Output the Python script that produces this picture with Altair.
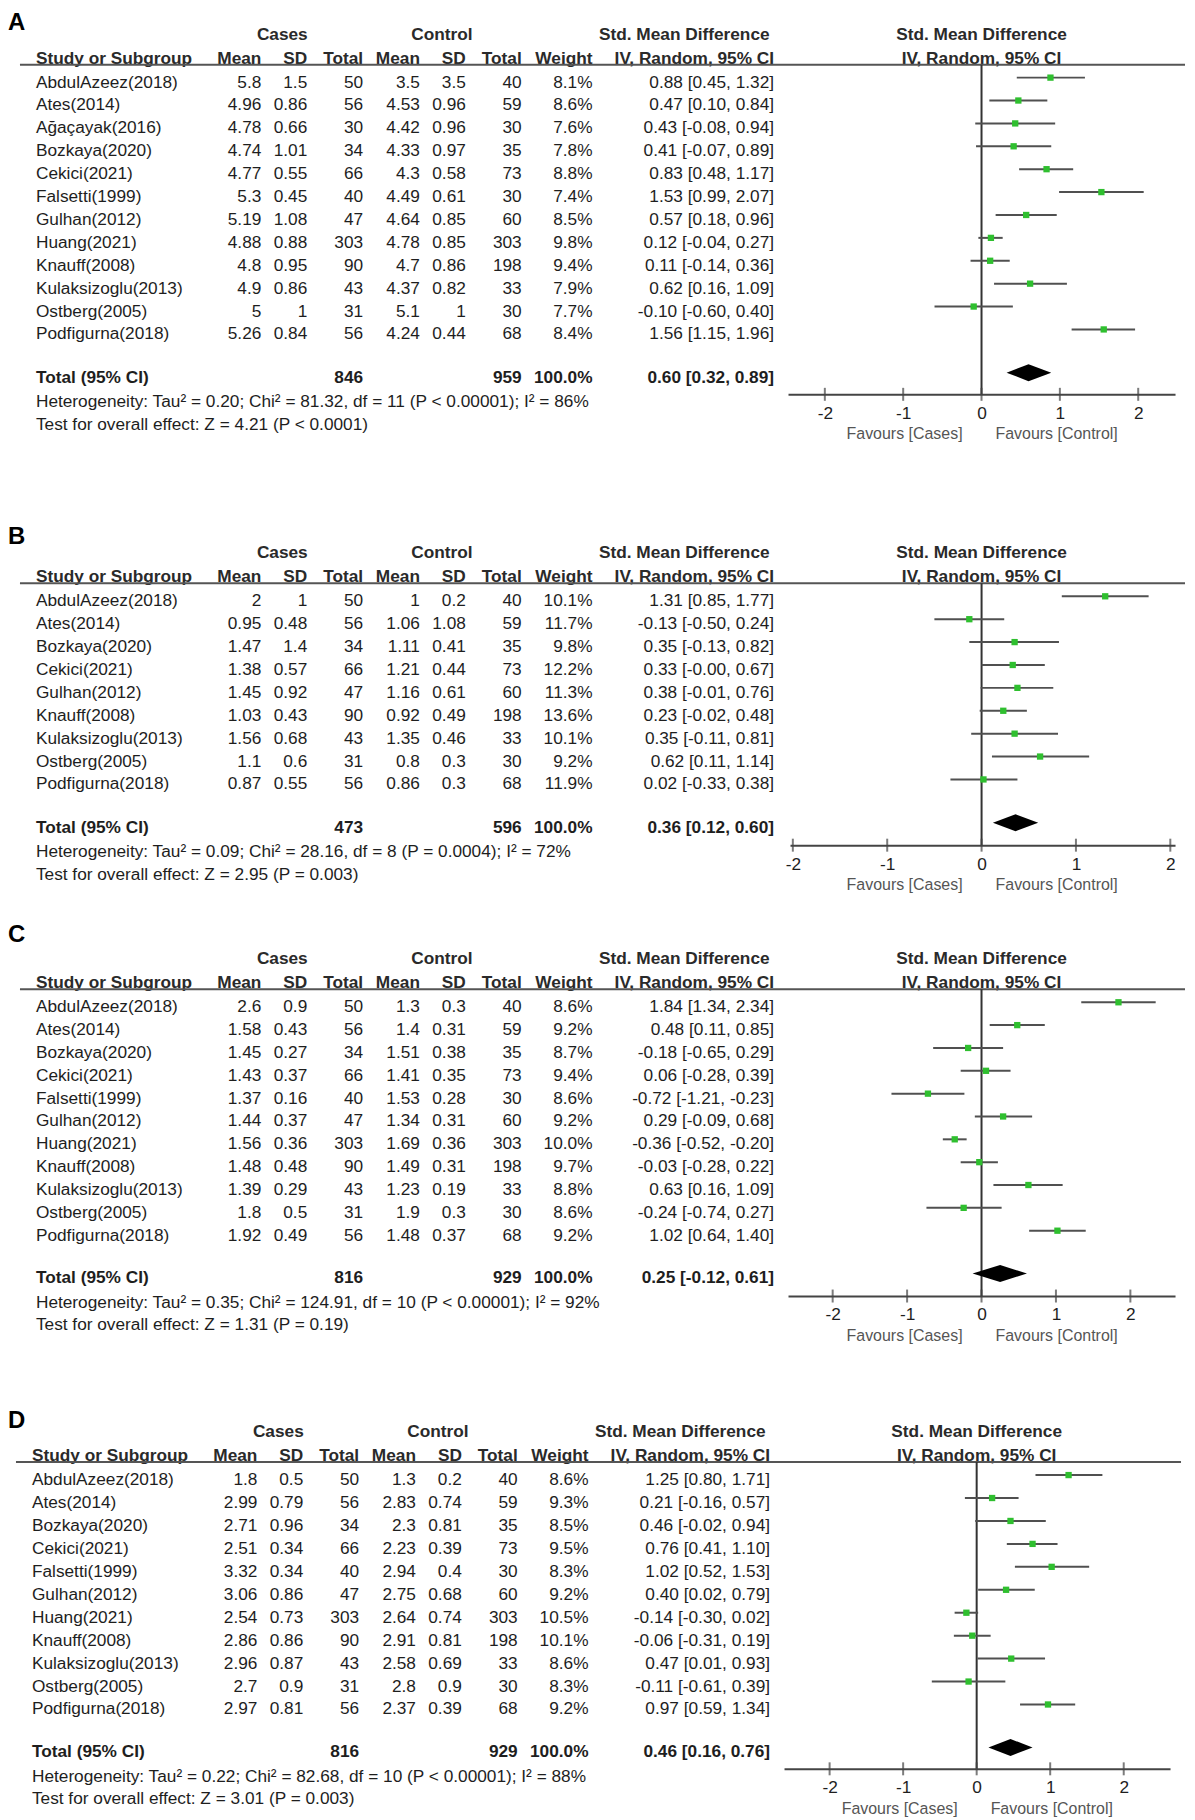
import altair as alt
import pandas as pd

# ---------------- data ----------------
A_study = ["AbdulAzeez(2018)", "Ates(2014)", "Ağaçayak(2016)", "Bozkaya(2020)", "Cekici(2021)", "Falsetti(1999)",
           "Gulhan(2012)", "Huang(2021)", "Knauff(2008)", "Kulaksizoglu(2013)", "Ostberg(2005)", "Podfigurna(2018)"]
A_m1 = [5.8, 4.96, 4.78, 4.74, 4.77, 5.3, 5.19, 4.88, 4.8, 4.9, 5, 5.26]
A_sd1 = [1.5, 0.86, 0.66, 1.01, 0.55, 0.45, 1.08, 0.88, 0.95, 0.86, 1, 0.84]
A_n1 = [50, 56, 30, 34, 66, 40, 47, 303, 90, 43, 31, 56]
A_m2 = [3.5, 4.53, 4.42, 4.33, 4.3, 4.49, 4.64, 4.78, 4.7, 4.37, 5.1, 4.24]
A_sd2 = [3.5, 0.96, 0.96, 0.97, 0.58, 0.61, 0.85, 0.85, 0.86, 0.82, 1, 0.44]
A_n2 = [40, 59, 30, 35, 73, 30, 60, 303, 198, 33, 30, 68]
A_w = [8.1, 8.6, 7.6, 7.8, 8.8, 7.4, 8.5, 9.8, 9.4, 7.9, 7.7, 8.4]
A_smd = [0.88, 0.47, 0.43, 0.41, 0.83, 1.53, 0.57, 0.12, 0.11, 0.62, -0.10, 1.56]
A_lo = [0.45, 0.10, -0.08, -0.07, 0.48, 0.99, 0.18, -0.04, -0.14, 0.16, -0.60, 1.15]
A_hi = [1.32, 0.84, 0.94, 0.89, 1.17, 2.07, 0.96, 0.27, 0.36, 1.09, 0.40, 1.96]
A_total = [846, 959, 0.60, 0.32, 0.89]
A_het = "Heterogeneity: Tau² = 0.20; Chi² = 81.32, df = 11 (P < 0.00001); I² = 86%"
A_test = "Test for overall effect: Z = 4.21 (P < 0.0001)"

B_study = ["AbdulAzeez(2018)", "Ates(2014)", "Bozkaya(2020)", "Cekici(2021)", "Gulhan(2012)", "Knauff(2008)",
           "Kulaksizoglu(2013)", "Ostberg(2005)", "Podfigurna(2018)"]
B_m1 = [2, 0.95, 1.47, 1.38, 1.45, 1.03, 1.56, 1.1, 0.87]
B_sd1 = [1, 0.48, 1.4, 0.57, 0.92, 0.43, 0.68, 0.6, 0.55]
B_n1 = [50, 56, 34, 66, 47, 90, 43, 31, 56]
B_m2 = [1, 1.06, 1.11, 1.21, 1.16, 0.92, 1.35, 0.8, 0.86]
B_sd2 = [0.2, 1.08, 0.41, 0.44, 0.61, 0.49, 0.46, 0.3, 0.3]
B_n2 = [40, 59, 35, 73, 60, 198, 33, 30, 68]
B_w = [10.1, 11.7, 9.8, 12.2, 11.3, 13.6, 10.1, 9.2, 11.9]
B_smd = [1.31, -0.13, 0.35, 0.33, 0.38, 0.23, 0.35, 0.62, 0.02]
B_lo = [0.85, -0.50, -0.13, -0.0, -0.01, -0.02, -0.11, 0.11, -0.33]
B_hi = [1.77, 0.24, 0.82, 0.67, 0.76, 0.48, 0.81, 1.14, 0.38]
B_total = [473, 596, 0.36, 0.12, 0.60]
B_het = "Heterogeneity: Tau² = 0.09; Chi² = 28.16, df = 8 (P = 0.0004); I² = 72%"
B_test = "Test for overall effect: Z = 2.95 (P = 0.003)"

C_study = ["AbdulAzeez(2018)", "Ates(2014)", "Bozkaya(2020)", "Cekici(2021)", "Falsetti(1999)", "Gulhan(2012)",
           "Huang(2021)", "Knauff(2008)", "Kulaksizoglu(2013)", "Ostberg(2005)", "Podfigurna(2018)"]
C_m1 = [2.6, 1.58, 1.45, 1.43, 1.37, 1.44, 1.56, 1.48, 1.39, 1.8, 1.92]
C_sd1 = [0.9, 0.43, 0.27, 0.37, 0.16, 0.37, 0.36, 0.48, 0.29, 0.5, 0.49]
C_n1 = [50, 56, 34, 66, 40, 47, 303, 90, 43, 31, 56]
C_m2 = [1.3, 1.4, 1.51, 1.41, 1.53, 1.34, 1.69, 1.49, 1.23, 1.9, 1.48]
C_sd2 = [0.3, 0.31, 0.38, 0.35, 0.28, 0.31, 0.36, 0.31, 0.19, 0.3, 0.37]
C_n2 = [40, 59, 35, 73, 30, 60, 303, 198, 33, 30, 68]
C_w = [8.6, 9.2, 8.7, 9.4, 8.6, 9.2, 10.0, 9.7, 8.8, 8.6, 9.2]
C_smd = [1.84, 0.48, -0.18, 0.06, -0.72, 0.29, -0.36, -0.03, 0.63, -0.24, 1.02]
C_lo = [1.34, 0.11, -0.65, -0.28, -1.21, -0.09, -0.52, -0.28, 0.16, -0.74, 0.64]
C_hi = [2.34, 0.85, 0.29, 0.39, -0.23, 0.68, -0.20, 0.22, 1.09, 0.27, 1.40]
C_total = [816, 929, 0.25, -0.12, 0.61]
C_het = "Heterogeneity: Tau² = 0.35; Chi² = 124.91, df = 10 (P < 0.00001); I² = 92%"
C_test = "Test for overall effect: Z = 1.31 (P = 0.19)"

D_study = ["AbdulAzeez(2018)", "Ates(2014)", "Bozkaya(2020)", "Cekici(2021)", "Falsetti(1999)", "Gulhan(2012)",
           "Huang(2021)", "Knauff(2008)", "Kulaksizoglu(2013)", "Ostberg(2005)", "Podfigurna(2018)"]
D_m1 = [1.8, 2.99, 2.71, 2.51, 3.32, 3.06, 2.54, 2.86, 2.96, 2.7, 2.97]
D_sd1 = [0.5, 0.79, 0.96, 0.34, 0.34, 0.86, 0.73, 0.86, 0.87, 0.9, 0.81]
D_n1 = [50, 56, 34, 66, 40, 47, 303, 90, 43, 31, 56]
D_m2 = [1.3, 2.83, 2.3, 2.23, 2.94, 2.75, 2.64, 2.91, 2.58, 2.8, 2.37]
D_sd2 = [0.2, 0.74, 0.81, 0.39, 0.4, 0.68, 0.74, 0.81, 0.69, 0.9, 0.39]
D_n2 = [40, 59, 35, 73, 30, 60, 303, 198, 33, 30, 68]
D_w = [8.6, 9.3, 8.5, 9.5, 8.3, 9.2, 10.5, 10.1, 8.6, 8.3, 9.2]
D_smd = [1.25, 0.21, 0.46, 0.76, 1.02, 0.40, -0.14, -0.06, 0.47, -0.11, 0.97]
D_lo = [0.80, -0.16, -0.02, 0.41, 0.52, 0.02, -0.30, -0.31, 0.01, -0.61, 0.59]
D_hi = [1.71, 0.57, 0.94, 1.10, 1.53, 0.79, 0.02, 0.19, 0.93, 0.39, 1.34]
D_total = [816, 929, 0.46, 0.16, 0.76]
D_het = "Heterogeneity: Tau² = 0.22; Chi² = 82.68, df = 10 (P < 0.00001); I² = 88%"
D_test = "Test for overall effect: Z = 3.01 (P = 0.003)"

TICKS = [-2, -1, 0, 1, 2]

# ---------------- layout / style ----------------
FONT = "Liberation Sans"
FS = 17.3
W = 1182
TXT = "#1e1e1e"
GREEN = "#2fbf2f"
LINE = "#505050"

LAYOUT = {
    "A": dict(top=8, label=19.5, row0=75.5, step=22.95, total=371.3, axis=393,
              dom=(-2.47, 2.47), rng=(790, 1178), shift=0),
    "B": dict(top=393, label=535, row0=595.5, step=22.95, total=822.5, axis=845,
              dom=(-2.03, 2.05), rng=(792, 1178), shift=0),
    "C": dict(top=845, label=934, row0=1002.5, step=22.9, total=1274.4, axis=1297,
              dom=(-2.6, 2.6), rng=(790, 1178), shift=0),
    "D": dict(top=1297, label=1421, row0=1476.5, step=23.0, total=1749.6, axis=1771,
              dom=(-2.62, 2.63), rng=(786, 1173), shift=-4),
}
COLS = [("m1", 262, "Mean"), ("sd1", 308, "SD"), ("n1", 364, "Total"), ("m2", 421, "Mean"),
        ("sd2", 467, "SD"), ("n2", 523, "Total"), ("w", 594, "Weight"), ("ci", 776, "IV, Random, 95% CI")]
STUDY_X = 36
GROUPS = [("Cases", 283), ("Control", 443), ("Std. Mean Difference", 686)]
TEXT_DY = 5
DIAMOND_HALF = 8.5  # px
LABEL_FS = 24


def one(label):
    return pd.DataFrame({"t": [label]})


def panel(key, study, m1, sd1, n1, m2, sd2, n2, w, smd, lo, hi, total, het, test):
    L = LAYOUT[key]
    top = L["top"]
    H = L["axis"] - top
    step = L["step"]

    def px(x):
        return x - 8 + L["shift"]

    def py(y):
        return y - top

    N = len(study)
    rT = (L["total"] - L["row0"]) / step
    ys = alt.Scale(domain=[(top - L["row0"]) / step, (L["axis"] - L["row0"]) / step],
                   range=[0, H], nice=False, zero=False)
    xs = alt.Scale(domain=list(L["dom"]), range=[L["rng"][0] - 8, L["rng"][1] - 8], nice=False, zero=False)
    ax = alt.Axis(values=TICKS, ticks=False, tickSize=0, domainColor="#444444", domainWidth=2,
                  labelFontSize=FS, labelFont=FONT, labelColor=TXT, labelPadding=10, labelFlush=False,
                  labelOverlap=False, grid=False, title=None, labelExpr="datum.value + ''")

    def X(field):
        return alt.X(field, type="quantitative", scale=xs, axis=ax)

    def X0():
        return alt.XDatum(0, type="quantitative", scale=xs, axis=ax)

    def Y(field="r"):
        return alt.Y(field, type="quantitative", scale=ys, axis=None)

    rows = pd.DataFrame({
        "r": list(range(N)),
        "study": study,
        "m1": [str(v) for v in m1], "sd1": [str(v) for v in sd1], "n1": [str(v) for v in n1],
        "m2": [str(v) for v in m2], "sd2": [str(v) for v in sd2], "n2": [str(v) for v in n2],
        "w": [f"{v:.1f}%" for v in w],
        "ci": [f"{s:.2f} [{a:.2f}, {b:.2f}]" for s, a, b in zip(smd, lo, hi)],
        "smd": smd, "lo": lo, "hi": hi,
    })
    tot = pd.DataFrame({
        "r": [rT], "study": ["Total (95% CI)"], "n1": [str(total[0])], "n2": [str(total[1])],
        "w": ["100.0%"], "ci": [f"{total[2]:.2f} [{total[3]:.2f}, {total[4]:.2f}]"],
    })
    hh = DIAMOND_HALF / step
    dia = pd.DataFrame({"x": [total[3], total[2], total[4]],
                        "y": [rT, rT - hh, rT], "y2": [rT, rT + hh, rT]})
    ticks = pd.DataFrame({"v": TICKS})

    layers = []
    base_txt = dict(font=FONT, fontSize=FS, color=TXT, dy=TEXT_DY)
    # study rows
    layers.append(alt.Chart(rows).mark_text(align="left", **base_txt).encode(
        x=alt.value(px(STUDY_X)), y=Y(), text="study:N"))
    for col, cx, _ in COLS:
        layers.append(alt.Chart(rows).mark_text(align="right", **base_txt).encode(
            x=alt.value(px(cx)), y=Y(), text=f"{col}:N"))
    # totals row
    layers.append(alt.Chart(tot).mark_text(align="left", fontWeight="bold", **base_txt).encode(
        x=alt.value(px(STUDY_X)), y=Y(), text="study:N"))
    for col, cx, _ in COLS:
        if col in ("n1", "n2", "w", "ci"):
            layers.append(alt.Chart(tot).mark_text(align="right", fontWeight="bold", **base_txt).encode(
                x=alt.value(px(cx)), y=Y(), text=f"{col}:N"))
    # headers
    hdr_y = py(L["row0"] - 19)
    grp_y = py(L["row0"] - 43)
    ul_y = py(L["row0"] - 13)
    hdr = dict(font=FONT, fontSize=FS, color="#2a2a2a", fontWeight="bold")
    layers.append(alt.Chart(one("Study or Subgroup")).mark_text(align="left", **hdr).encode(
        x=alt.value(px(STUDY_X)), y=alt.value(hdr_y), text="t:N"))
    for col, cx, lab in COLS:
        layers.append(alt.Chart(one(lab)).mark_text(align="right", **hdr).encode(
            x=alt.value(px(cx)), y=alt.value(hdr_y), text="t:N"))
    for lab, cx in GROUPS:
        layers.append(alt.Chart(one(lab)).mark_text(align="center", **hdr).encode(
            x=alt.value(px(cx)), y=alt.value(grp_y), text="t:N"))
    layers.append(alt.Chart(one("Std. Mean Difference")).mark_text(align="center", **hdr).encode(
        x=X0(), y=alt.value(grp_y), text="t:N"))
    layers.append(alt.Chart(one("IV, Random, 95% CI")).mark_text(align="center", **hdr).encode(
        x=X0(), y=alt.value(hdr_y), text="t:N"))
    # header underline
    layers.append(alt.Chart(one("")).mark_rule(color="#555555", strokeWidth=2).encode(
        x=alt.value(px(20)), x2=alt.value(px(1188)), y=alt.value(ul_y)))
    # zero line
    layers.append(alt.Chart(one("")).mark_rule(color="#333333", strokeWidth=2).encode(
        x=X0(), y=alt.value(ul_y), y2=alt.value(H)))
    # CI lines and markers
    layers.append(alt.Chart(rows).mark_rule(color=LINE, strokeWidth=2).encode(
        x=X("lo"), x2=alt.X2("hi"), y=Y()))
    layers.append(alt.Chart(rows).mark_square(size=40, color=GREEN, opacity=1).encode(
        x=X("smd"), y=Y()))
    # diamond
    layers.append(alt.Chart(dia).mark_area(color="#000000", orient="vertical", opacity=1).encode(
        x=X("x"), y=Y("y"), y2=alt.Y2("y2")))
    # axis ticks crossing the axis line
    layers.append(alt.Chart(ticks).mark_tick(orient="vertical", size=13, thickness=2, color="#444444").encode(
        x=X("v"), y=alt.value(H)))
    # favours labels
    fav = dict(font=FONT, fontSize=16, color="#555555")
    layers.append(alt.Chart(one("Favours [Cases]")).mark_text(align="right", dx=-19, **fav).encode(
        x=X0(), y=alt.value(H + 40), text="t:N"))
    layers.append(alt.Chart(one("Favours [Control]")).mark_text(align="left", dx=14, **fav).encode(
        x=X0(), y=alt.value(H + 40), text="t:N"))
    # heterogeneity and overall test
    tot_y = py(L["total"])
    layers.append(alt.Chart(one(het)).mark_text(align="left", font=FONT, fontSize=FS, color=TXT).encode(
        x=alt.value(px(STUDY_X)), y=alt.value(tot_y + 29.5), text="t:N"))
    layers.append(alt.Chart(one(test)).mark_text(align="left", font=FONT, fontSize=FS, color=TXT).encode(
        x=alt.value(px(STUDY_X)), y=alt.value(tot_y + 52), text="t:N"))
    # panel label
    lab_y = max(py(L["label"]) + 1.4, 12.9)
    layers.append(alt.Chart(one(key)).mark_text(align="left", font=FONT, fontSize=LABEL_FS, fontWeight="bold",
                                                color="#000000").encode(
        x=alt.value(0), y=alt.value(lab_y), text="t:N"))

    return alt.layer(*layers).properties(width=W, height=H)


pA = panel("A", A_study, A_m1, A_sd1, A_n1, A_m2, A_sd2, A_n2, A_w, A_smd, A_lo, A_hi, A_total, A_het, A_test)
pB = panel("B", B_study, B_m1, B_sd1, B_n1, B_m2, B_sd2, B_n2, B_w, B_smd, B_lo, B_hi, B_total, B_het, B_test)
pC = panel("C", C_study, C_m1, C_sd1, C_n1, C_m2, C_sd2, C_n2, C_w, C_smd, C_lo, C_hi, C_total, C_het, C_test)
pD = panel("D", D_study, D_m1, D_sd1, D_n1, D_m2, D_sd2, D_n2, D_w, D_smd, D_lo, D_hi, D_total, D_het, D_test)

chart = alt.VConcatChart(vconcat=[pA, pB, pC, pD], spacing=0, bounds="flush", padding=0).configure(
    font=FONT).configure_view(stroke=None)

chart.save("out.html", embed_options={"renderer": "svg", "actions": False})
